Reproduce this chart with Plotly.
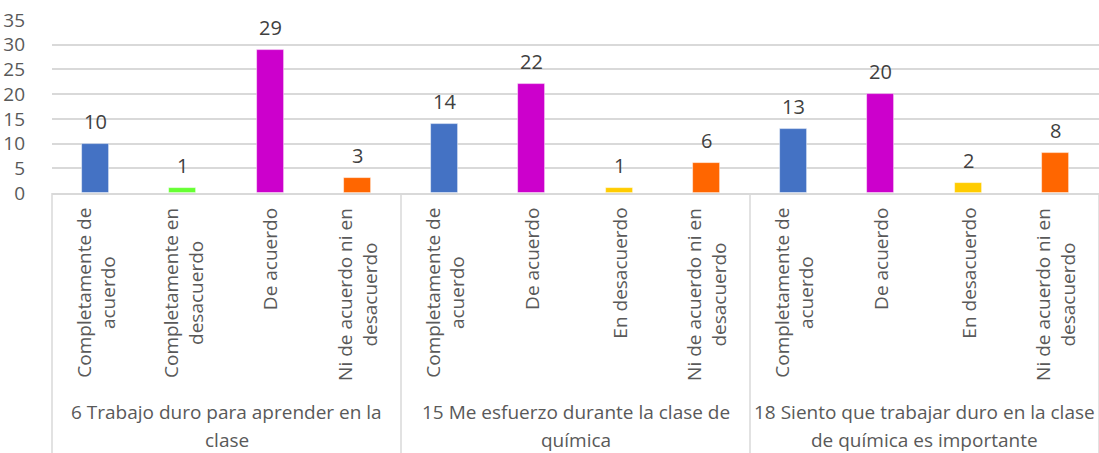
import plotly.graph_objects as go

# ---- data ----
groups = [
    "6 Trabajo duro para aprender en la<br>clase",
    "15 Me esfuerzo durante la clase de<br>química",
    "18 Siento que trabajar duro en la clase<br>de química es importante",
]
categories = [
    ["Completamente de acuerdo", "Completamente en desacuerdo", "De acuerdo", "Ni de acuerdo ni en desacuerdo"],
    ["Completamente de acuerdo", "De acuerdo", "En desacuerdo", "Ni de acuerdo ni en desacuerdo"],
    ["Completamente de acuerdo", "De acuerdo", "En desacuerdo", "Ni de acuerdo ni en desacuerdo"],
]
values = [
    [10, 1, 29, 3],
    [14, 22, 1, 6],
    [13, 20, 2, 8],
]
tick_text = {
    "Completamente de acuerdo": "Completamente de<br>acuerdo",
    "Completamente en desacuerdo": "Completamente en<br>desacuerdo",
    "De acuerdo": "De acuerdo",
    "Ni de acuerdo ni en desacuerdo": "Ni de acuerdo ni en<br>desacuerdo",
    "En desacuerdo": "En desacuerdo",
}
cat_colors = {
    "Completamente de acuerdo": "#4472C4",
    "Completamente en desacuerdo": "#66FF33",
    "De acuerdo": "#CC00CC",
    "En desacuerdo": "#FFCC00",
    "Ni de acuerdo ni en desacuerdo": "#FF6600",
}
y_ticks = [0, 5, 10, 15, 20, 25, 30, 35]

FONT = "Open Sans"
TXT = "#595959"
GRID = "#D9D9D9"
PH = 173  # plot height in px

xs, ys, cols, labels = [], [], [], []
i = 0
for g, cats in enumerate(categories):
    for c, v in zip(cats, values[g]):
        xs.append(i)
        ys.append(v)
        cols.append(cat_colors[c])
        labels.append(c)
        i += 1
n = len(xs)

fig = go.Figure()
fig.add_trace(go.Bar(
    x=xs, y=ys, width=0.31,
    marker=dict(color=cols, line=dict(color="rgba(255,255,255,0.6)", width=0.8)),
    hoverinfo="x+y", showlegend=False,
))

annotations = []
# value labels
for x, y in zip(xs, ys):
    annotations.append(dict(x=x, y=y, xref="x", yref="y", text=str(y), showarrow=False,
                            yanchor="bottom", yshift=7,
                            font=dict(family=FONT, size=20, color="#404040")))
# rotated category labels
for x, c in zip(xs, labels):
    annotations.append(dict(x=x, y=-13 / PH, xref="x", yref="paper", text=tick_text[c],
                            showarrow=False, textangle=-90, xanchor="center", yanchor="top",
                            align="center",
                            font=dict(family=FONT, size=19, color=TXT)))
# group labels (one annotation per line to match line spacing)
for g, name in enumerate(groups):
    center = sum(xs[g * 4:(g + 1) * 4]) / 4
    for k, line in enumerate(name.split("<br>")):
        ypix = 412 + 28 * k
        annotations.append(dict(x=center, y=(193 - ypix) / PH, xref="x", yref="paper", text=line,
                                showarrow=False, xanchor="center", yanchor="middle", align="center",
                                font=dict(family=FONT, size=19, color=TXT)))

shapes = []
ng = len(groups)
for k in range(ng + 1):
    shapes.append(dict(type="line", xref="paper", yref="paper", x0=k / ng, x1=k / ng,
                       y0=0, y1=-270 / PH, line=dict(color=GRID, width=1.5)))

fig.update_layout(
    width=1099, height=453,
    margin=dict(l=52, r=0, t=20, b=260, autoexpand=False),
    paper_bgcolor="white", plot_bgcolor="white",
    annotations=annotations, shapes=shapes,
    xaxis=dict(range=[-0.5, n - 0.5], showticklabels=False, showgrid=False, zeroline=False,
               showline=True, linecolor=GRID, linewidth=1.5, ticks="", automargin=False),
    yaxis=dict(range=[0, 35], tickvals=y_ticks, showgrid=True, gridcolor=GRID, gridwidth=1.5,
               zeroline=False, showline=False, ticks="", automargin=False,
               tickfont=dict(family=FONT, size=19, color=TXT), ticklabelstandoff=26),
    bargap=0,
)

fig.write_html("out.html", config={"displayModeBar": False},
               post_script="document.body.style.margin='0';document.body.style.overflow='hidden';")
